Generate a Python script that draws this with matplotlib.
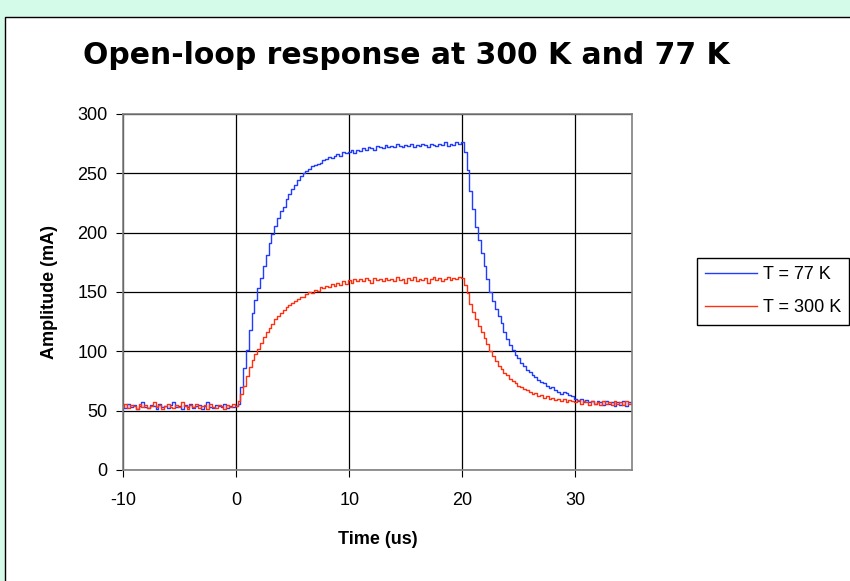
"""Open-loop response at 300 K and 77 K."""
import numpy as np
import matplotlib
matplotlib.use('Agg')
import matplotlib.pyplot as plt
from matplotlib.patches import Rectangle

plt.rcParams['axes.unicode_minus'] = False

# sampled every 0.25 us, starting at -10 us
T_STEP = 0.25
T_START = -10

amp_77k = [
    54, 52, 56, 53, 55, 51, 54, 57, 53, 52, 55, 54, 51, 56, 53, 54,
    52, 55, 57, 53, 54, 51, 55, 53, 56, 52, 54, 55, 51, 54, 57, 53,
    52, 55, 54, 53, 56, 52, 54, 53,
    54, 56, 70, 86, 101, 118, 132, 143, 153, 162, 172, 181,
    191, 199, 206, 212, 218, 222, 228, 233, 237, 240, 244, 248,
    250, 252, 254, 256, 257, 258, 259, 261, 262, 264, 263, 265,
    266, 265, 268, 267, 268, 270, 267, 270, 269, 271, 270, 272,
    271, 270, 273, 272, 271, 274, 272, 273, 272, 275, 273, 272,
    274, 273, 275, 272, 274, 273, 275, 274, 272, 275, 274, 273,
    275, 274, 276, 273, 275, 274, 276, 275,
    276, 268, 253, 235, 220, 205, 194, 183, 172, 161, 150, 142,
    136, 130, 124, 116, 110, 105, 101, 97, 94, 90, 88, 84,
    83, 80, 78, 76, 74, 73, 71, 69, 70, 67, 66, 64,
    66, 65, 63, 62, 60, 58, 60, 57, 59, 57, 58, 56,
    58, 57, 55, 58, 56, 57, 54, 57, 55, 58, 54, 57, 56,
]

amp_300k = [
    53, 56, 52, 55, 54, 51, 56, 53, 55, 52, 54, 57, 53, 55, 51, 54,
    56, 53, 52, 55, 53, 57, 54, 51, 55, 53, 56, 52, 54, 55, 51, 56,
    53, 52, 55, 54, 51, 55, 53, 56,
    54, 58, 64, 71, 79, 87, 93, 98, 102, 107, 112, 116,
    120, 123, 127, 130, 132, 135, 137, 139, 141, 142, 144, 146,
    146, 148, 150, 149, 152, 151, 154, 153, 155, 154, 157, 155,
    158, 156, 159, 157, 160, 158, 161, 159, 161, 159, 162, 160,
    158, 162, 160, 161, 159, 162, 160, 161, 159, 163, 160, 161,
    158, 162, 160, 163, 159, 161, 160, 162, 158, 161, 163, 160,
    162, 159, 161, 163, 160, 162, 161, 163,
    162, 156, 149, 140, 133, 127, 121, 116, 111, 106, 100, 96,
    92, 88, 85, 82, 80, 77, 75, 73, 71, 70, 68, 67,
    66, 64, 65, 62, 63, 61, 62, 60, 61, 59, 60, 58,
    60, 57, 59, 58, 57, 59, 56, 58, 57, 55, 58, 56,
    57, 55, 58, 56, 57, 55, 58, 56, 57, 55, 58, 56, 57,
]

labels = ['T = 77 K', 'T = 300 K']
colors = ['#1f3cff', '#ff3010']

fig = plt.figure(figsize=(8.5, 5.81), dpi=100)
fig.patch.set_facecolor('#d4fbea')
# white slide panel behind the chart
panel = Rectangle((5 / 850, -0.1), 1.1, 1.1 - 17 / 581,
                  transform=fig.transFigure, facecolor='white',
                  edgecolor='black', linewidth=1, zorder=-1)
fig.add_artist(panel)

ax = fig.add_axes([123 / 850, 1 - 470 / 581, 509 / 850, 356 / 581])
ax.patch.set_alpha(0)

for amp, lab, col in zip([amp_77k, amp_300k], labels, colors):
    t = T_START + T_STEP * np.arange(len(amp))
    ax.plot(t, amp, color=col, linewidth=1.0, drawstyle='steps-mid', label=lab)

ax.set_xlim(-10, 35)
ax.set_ylim(0, 300)
ax.set_xticks([-10, 0, 10, 20, 30])
ax.set_yticks(range(0, 301, 50))
ax.grid(True, color='black', linewidth=0.9)
ax.set_axisbelow(True)
for sp in ax.spines.values():
    sp.set_color('#808080')
    sp.set_linewidth(1.2)
ax.tick_params(direction='out', length=5, width=0.8, color='black',
               labelsize=13, pad=6)
for lbl in ax.get_xticklabels() + ax.get_yticklabels():
    lbl.set_family('Liberation Sans')
ax.tick_params(axis='x', pad=11)

ax.set_xlabel('Time (us)', family='Liberation Sans', fontweight='bold',
              fontsize=13, labelpad=16)
ax.set_ylabel('Amplitude (mA)', family='Liberation Sans', fontweight='bold',
              fontsize=13, labelpad=14)

fig.text(0.478, 0.905, 'Open-loop response at 300 K and 77 K',
         family='DejaVu Sans', fontweight='bold', fontsize=21.5,
         ha='center', va='center')

leg = ax.legend(loc='upper left', bbox_to_anchor=(697 / 850, 1 - 258 / 581),
                bbox_transform=fig.transFigure, frameon=True, fancybox=False,
                edgecolor='black', framealpha=1,
                prop={'family': 'Liberation Sans', 'size': 13},
                handlelength=2.9, labelspacing=0.9, borderaxespad=0,
                borderpad=0.45, handletextpad=0.3)
leg.get_frame().set_linewidth(1.0)

fig.savefig('out.png', dpi=100, facecolor=fig.get_facecolor())
